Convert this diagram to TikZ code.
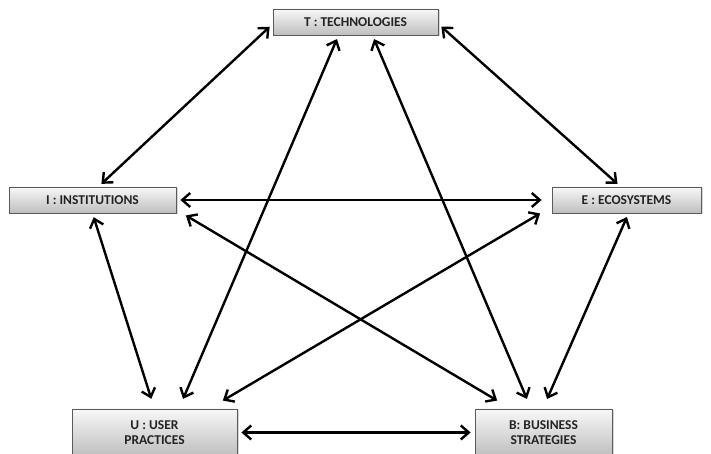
\documentclass[tikz,border=0pt]{standalone}
\usepackage{fontspec}
\setsansfont{Carlito}
\usetikzlibrary{arrows.meta,shadows}
\definecolor{boxEdge}{RGB}{90,90,90}
\definecolor{boxTop}{RGB}{248,248,248}
\definecolor{boxBottom}{RGB}{190,190,190}
\definecolor{boxText}{RGB}{35,35,35}
\tikzset{
    base/.style={font=\sffamily\bfseries\fontsize{13.5}{15.5}\selectfont, align=center},
    actor/.style={base, rectangle, draw=boxEdge, line width=0.8pt,
                  top color=boxTop, bottom color=boxBottom, text=boxText, inner sep=0pt,
                  minimum height=26pt,
                  drop shadow={opacity=0.3, shadow xshift=1.5pt, shadow yshift=-1.5pt}},
    tall/.style={minimum height=47pt},
    link/.style={{Straight Barb[length=8pt,width=14pt]}-{Straight Barb[length=8pt,width=14pt]},
                 line width=2.4pt, shorten <=4pt, shorten >=4pt}
}

\begin{document}
\begin{tikzpicture}[x=1pt,y=1pt]
  \fill[white] (0,0) rectangle (711,454);
  \useasboundingbox (0,0) rectangle (711,454);

  % the five poles
  \node[actor, minimum width=165pt] (tech) at (355.5,432) {T : TECHNOLOGIES};
  \node[actor, minimum width=167pt] (inst) at (92.5,254) {I : INSTITUTIONS};
  \node[actor, minimum width=149pt] (eco) at (626.5,254) {E : ECOSYSTEMS};
  \node[actor, tall, minimum width=165pt] (user) at (154.5,21.5) {U : USER\\PRACTICES};
  \node[actor, tall, minimum width=137pt] (bus) at (543.5,21.5) {B: BUSINESS\\STRATEGIES};

  % every pair is linked both ways
  \draw[link] ([yshift=-2pt]tech.west) -- ([xshift=6pt]inst.north);
  \draw[link] ([yshift=-2pt]tech.east) -- ([xshift=-6pt]eco.north);
  \draw[link] ([xshift=-17pt]tech.south) -- ([xshift=27pt,yshift=6pt]user.north);
  \draw[link] ([xshift=17pt]tech.south) -- ([xshift=-15pt,yshift=6pt]bus.north);
  \draw[link] (inst.east) -- ([xshift=-6pt]eco.west);
  \draw[link] (inst.south) -- ([xshift=-2pt,yshift=6pt]user.north);
  \draw[link] ([xshift=6pt]inst.south east) -- ([xshift=26pt,yshift=6pt]bus.north west);
  \draw[link] ([xshift=-8pt,yshift=2pt]eco.south west) -- ([xshift=-18pt,yshift=6pt]user.north east);
  \draw[link] ([xshift=2pt]eco.south) -- ([xshift=2pt,yshift=6pt]bus.north);
  \draw[link] (user.east) -- (bus.west);
\end{tikzpicture}
\end{document}
